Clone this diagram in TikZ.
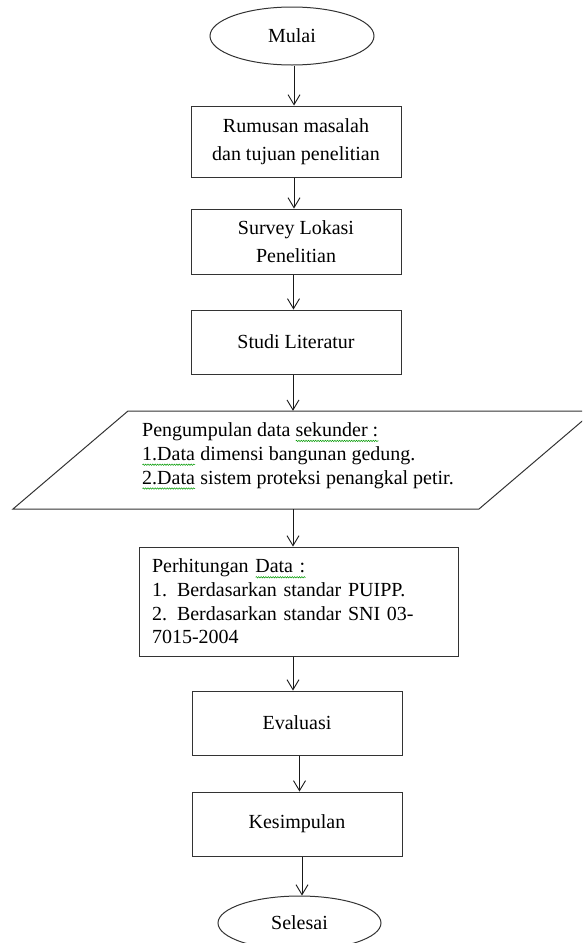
\documentclass[tikz,border=0pt]{standalone}
\usepackage{fontspec}
\setmainfont{Liberation Serif}
\usetikzlibrary{arrows.meta,shapes.geometric,decorations.pathmorphing}
\newsavebox\gwbox
\newcommand\gwave[1]{\sbox\gwbox{#1}\rlap{\usebox\gwbox}\tikz[baseline=0pt]{\draw[green!60!black, line width=0.5pt, decorate, decoration={snake, amplitude=0.7pt, segment length=2.4pt}] (0pt,-4.5pt) -- (\wd\gwbox,-4.5pt); \path (0pt,0pt) (\wd\gwbox,0pt);}}
\begin{document}
\begin{tikzpicture}[x=1pt,y=-1pt,
  box/.style={draw=black!80, line width=1pt, rectangle, inner sep=0pt, align=center, font=\fontsize{20}{28}\selectfont},
  term/.style={draw=black!80, line width=1pt, ellipse, inner sep=0pt, font=\fontsize{20}{24}\selectfont},
  arr/.style={draw=black!90, line width=0.9pt, -{Straight Barb[length=10pt,width=12pt,line width=0.9pt]}}]
\useasboundingbox (0,0) rectangle (582,943);
\clip (0,0) rectangle (582,943);
\node[term, minimum width=164pt, minimum height=58pt] (mulai) at (292,36) {Mulai};
\node[box, minimum width=210pt, minimum height=71pt] (rumus) at (296,141.5) {Rumusan masalah\\dan tujuan penelitian};
\node[box, minimum width=210pt, minimum height=65pt] (survey) at (296,241.5) {Survey Lokasi\\Penelitian};
\node[box, minimum width=210pt, minimum height=64pt] (studi) at (296,342) {Studi Literatur};
\node[minimum width=350pt, minimum height=98pt, inner sep=0pt] (pgram) at (303.5,460) {};
\draw[draw=black!80, line width=1pt] (128,411) -- (594,411) -- (479,509) -- (13,509) -- cycle;
\node[anchor=west, inner sep=0pt, align=left, font=\fontsize{20}{23.8}\selectfont] (pgtext) at (142,456) {Pengumpulan data \gwave{sekunder :}\\\gwave{1.Data} dimensi bangunan gedung.\\\gwave{2.Data} sistem proteksi penangkal petir.};
\node[box, align=left, text width=293pt, inner xsep=13pt, inner ysep=0pt, minimum height=109pt, font=\fontsize{20}{23.7}\selectfont] (hitung) at (298.5,601.5) {Perhitungan \gwave{Data :}\\1. Berdasarkan standar PUIPP.\\2. Berdasarkan standar SNI 03-\\7015-2004};
\node[box, minimum width=210pt, minimum height=64pt] (eval) at (297,723) {Evaluasi};
\node[box, minimum width=210pt, minimum height=64pt] (kesim) at (297,824) {Kesimpulan};
\node[term, minimum width=163pt, minimum height=54pt] (selesai) at (299.5,923) {Selesai};
\draw[arr] ([xshift=2pt]mulai.south) -- ([xshift=-2pt]rumus.north);
\draw[arr] ([xshift=-2pt]rumus.south) -- ([xshift=-2pt]survey.north);
\draw[arr] ([xshift=-2.5pt]survey.south) -- ([xshift=-2.5pt]studi.north);
\draw[arr] ([xshift=-3pt]studi.south) -- ([xshift=-3pt]studi.south |- pgram.north);
\draw[arr] ([xshift=-5.5pt]hitung.north |- pgram.south) -- ([xshift=-5.5pt]hitung.north);
\draw[arr] ([xshift=-5.5pt]hitung.south) -- ([xshift=-5.5pt]hitung.south |- eval.north);
\draw[arr] ([xshift=2.5pt]eval.south) -- ([xshift=2.5pt]kesim.north);
\draw[arr] ([xshift=5pt]kesim.south) -- ([xshift=5pt]kesim.south |- selesai.north);
\end{tikzpicture}
\end{document}
